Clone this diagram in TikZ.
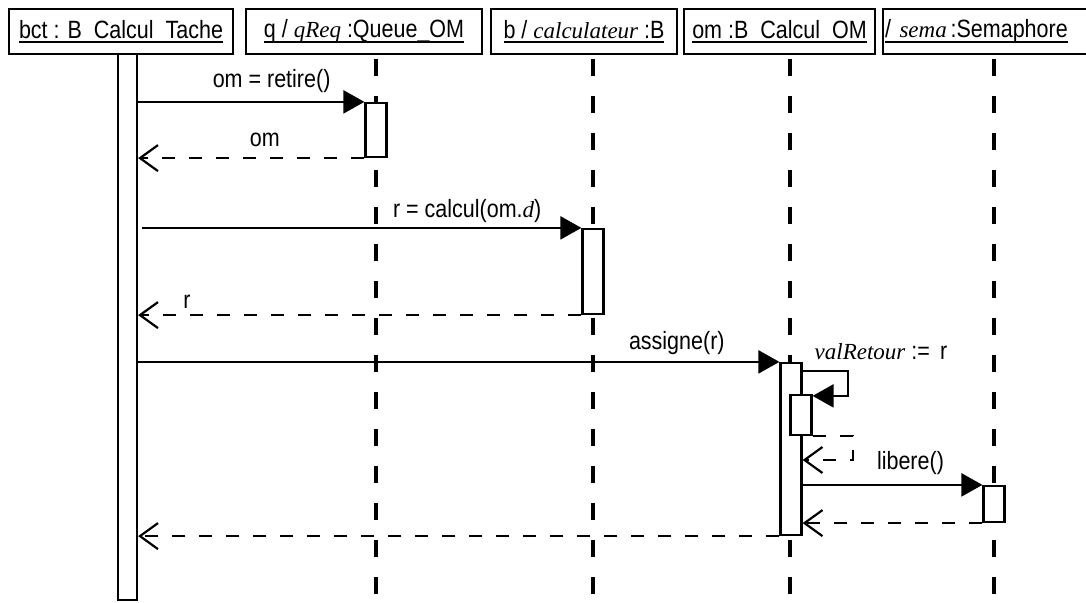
\documentclass[tikz,border=0pt]{standalone}
\usepackage{fontspec}
\setmainfont{Liberation Sans}[FakeStretch=0.86]
\newfontfamily\varfont{Liberation Serif}
\usetikzlibrary{arrows.meta}

\newcommand{\vname}[1]{{\fontsize{23}{28}\varfont\itshape #1}}
\newcommand{\objname}[1]{\setbox0\hbox{#1}\rlap{\rule[-5pt]{\wd0}{1.8pt}}\box0}

\begin{document}
\begin{tikzpicture}[
    x=1pt, y=-1pt,
    font=\fontsize{25}{30}\selectfont,
    head/.style={draw, fill=white, line width=2.4pt, minimum height=45pt, inner sep=0pt},
    act/.style={draw, fill=white, line width=2.2pt, minimum width=21pt, inner sep=0pt},
    lifeline/.style={line width=3.2pt, dash pattern=on 17pt off 20pt, dash phase=33pt},
    call/.style={line width=2.2pt, -{Triangle[length=21pt,width=23pt]}},
    reply/.style={line width=2.2pt, dash pattern=on 13pt off 14pt, -{Straight Barb[length=18pt,width=26pt]}},
    lbl/.style={inner sep=0pt}
  ]
    \useasboundingbox (0,0) rectangle (1086,602);
    \coordinate (bottom) at (0,602);

    % objects
    \node[head, minimum width=224pt] (hdbct) at (121,31.5) {\objname{bct : B\_Calcul\_Tache}};
    \node[head, minimum width=236pt] (hdq) at (364,31.5) {\objname{q / \vname{qReq}\ :Queue\_OM}};
    \node[head, minimum width=186pt] (hdb) at (584,31.5) {\objname{b / \vname{calculateur} :B}};
    \node[head, minimum width=191pt] (hdom) at (779.5,31.5) {\objname{om :B\_Calcul\_OM}};
    \node[head, anchor=west, text width=210pt, align=left, inner xsep=2pt] (hdsema) at (882,31.5) {\objname{/ \vname{sema\,}:Semaphore}};

    % lifelines
    \draw[lifeline] (376,0 |- hdq.south) -- (376,0 |- bottom);
    \draw[lifeline] (593,0 |- hdb.south) -- (593,0 |- bottom);
    \draw[lifeline] (790,0 |- hdom.south) -- (790,0 |- bottom);
    \draw[lifeline] (994,0 |- hdsema.south) -- (994,0 |- bottom);

    % activations
    \node[act, minimum width=19pt, minimum height=546pt] (bctbar) at (127.5,327) {};
    \node[act, minimum height=54pt] (qact) at (376,130) {};
    \node[act, minimum height=85pt] (bact) at (593,271.5) {};
    \node[act, minimum height=172pt] (omact) at (791,449) {};
    \node[act, minimum height=40pt] (omsub) at (801,415) {};
    \node[act, minimum height=36pt] (semaact) at (994,504) {};

    % messages
    \draw[call] (bctbar.east |- qact.north) -- node[lbl, pos=.59, above=8pt] {om = retire()} (qact.north west);
    \draw[reply] (qact.south west) -- node[lbl, pos=.44, above=10pt] {om} (bctbar.east |- qact.south);
    \draw[call] ([xshift=4pt]bctbar.east |- bact.north) -- node[lbl, pos=.74, above=4pt] {r = calcul(om.\vname{d})} (bact.north west);
    \draw[reply] (bact.south west) -- node[lbl, pos=.89, above=6pt] {r} (bctbar.east |- bact.south);
    \draw[call] (bctbar.east |- omact.north) -- node[lbl, pos=.84, above=6pt] {assigne(r)} (omact.north west);
    \draw[call] ([yshift=-9pt]omact.north east) -- node[lbl, pos=0, anchor=south west, xshift=11pt, yshift=10pt] {\vname{valRetour} :=~\,r} ++(45,0) |- ([yshift=-2pt]omsub.north east);
    \draw[reply] (omsub.south east) -- ++(40,0) |- ([yshift=-11pt]omact.east);
    \draw[call] (omact.east |- semaact.north) -- node[lbl, pos=.6, above=9pt] {libere()} (semaact.north west);
    \draw[reply] (semaact.south west) -- (omact.east |- semaact.south);
    \draw[reply] (omact.south west) -- (bctbar.east |- omact.south);
  \end{tikzpicture}
\end{document}
